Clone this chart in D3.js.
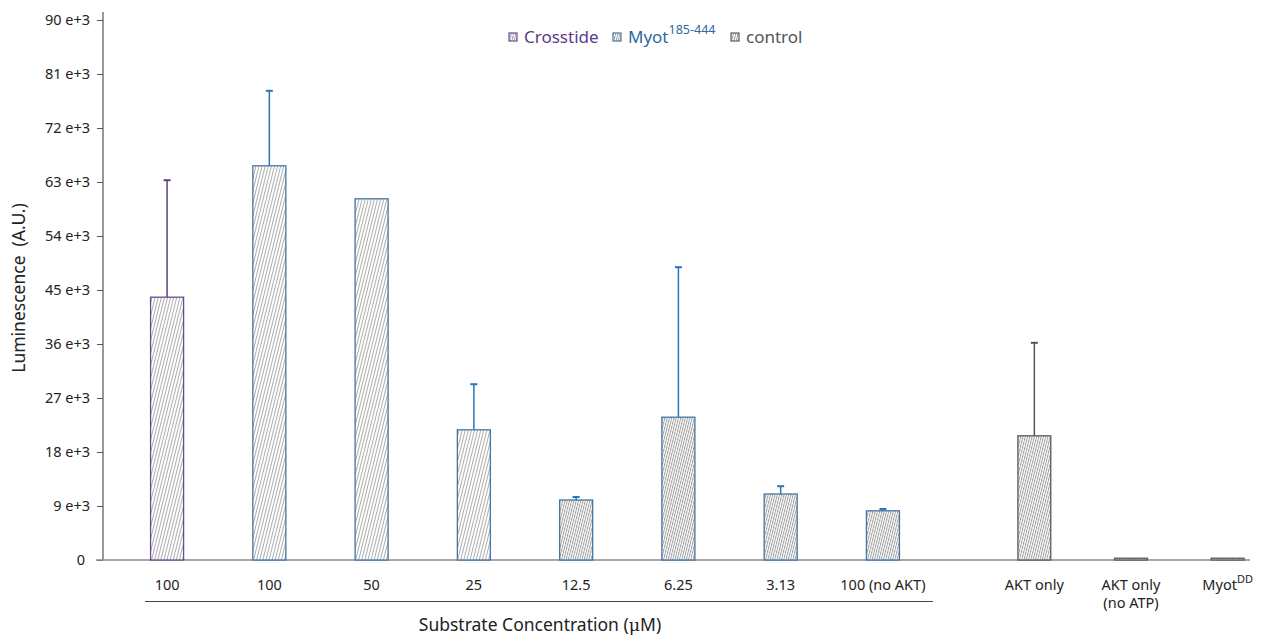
<!DOCTYPE html>
<html>
<head>
<meta charset="utf-8">
<script src="https://cdn.jsdelivr.net/npm/d3@7/dist/d3.min.js"></script>
<style>
  html, body { margin: 0; padding: 0; background: #fff; }
  svg { display: block; font-family: "Noto Sans", "Open Sans", sans-serif; }
</style>
</head>
<body>
<svg id="chart" width="1268" height="635"></svg>
<script>
// Substrate titration (first group) and controls (second group)
const substrateLabels = ["100", "100", "50", "25", "12.5", "6.25", "3.13", "100 (no AKT)"];
const substrateSeries = ["Crosstide", "Myot", "Myot", "Myot", "Myot", "Myot", "Myot", "Myot"];
const substrateMeans  = [43800, 65700, 60200, 21700, 10000, 23800, 11000, 8200];
const substrateErrors = [19500, 12500, 0, 7600, 500, 25000, 1300, 300];

const controlLabels = [["AKT only"], ["AKT only", "(no ATP)"], ["Myot", "DD"]];
const controlMeans  = [20700, 300, 300];
const controlErrors = [15500, 0, 0];

const yTicks = [0, 9000, 18000, 27000, 36000, 45000, 54000, 63000, 72000, 81000, 90000];

const colors = { Crosstide: "#6b4a94", Myot: "#4676a6", control: "#5a5a5a" };
const errColors = { Crosstide: "#5e4182", Myot: "#2a74b8", control: "#555555" };
const legendText = { Crosstide: "#5b3a8a", Myot: "#2c6aa3", control: "#555555" };

const svg = d3.select("#chart");

// Hatch patterns: fine steep diagonal lines
const defs = svg.append("defs");
function hatch(id, spacing, color, width) {
  const p = defs.append("pattern")
    .attr("id", id)
    .attr("patternUnits", "userSpaceOnUse")
    .attr("width", spacing).attr("height", spacing)
    .attr("patternTransform", "rotate(14)");
  p.append("rect").attr("width", spacing).attr("height", spacing).attr("fill", "#fff");
  p.append("line").attr("x1", 0.5).attr("y1", 0).attr("x2", 0.5).attr("y2", spacing)
    .attr("stroke", color).attr("stroke-width", width);
}
hatch("hatchLight", 3, "#a4a4a4", 0.9);
hatch("hatchDense", 2.2, "#969696", 0.9);

const y = d3.scaleLinear().domain([0, 90000]).range([560, 20]);

const xSub = d3.scaleBand().domain(d3.range(substrateLabels.length))
  .range([116, 934]).paddingInner(0.677).paddingOuter(0.338);
const xCtl = d3.scaleBand().domain(d3.range(controlLabels.length))
  .range([986, 1276]).paddingInner(0.66).paddingOuter(0.33);

// Y axis
const yAxis = d3.axisLeft(y).tickValues(yTicks).tickSize(6).tickPadding(7)
  .tickFormat(d => d === 0 ? "0" : (d / 1000) + " e+3");
const gy = svg.append("g").attr("transform", "translate(103,0)").call(yAxis);
gy.select(".domain").attr("d", "M0,12V560").attr("stroke", "#555").attr("stroke-width", 1.2);
gy.selectAll(".tick line").attr("stroke", "#555");
gy.selectAll(".tick text").attr("font-size", 14.5).attr("fill", "#222")
  .attr("font-family", "Noto Sans, sans-serif");
gy.selectAll(".tick").filter(d => d === 0).select("text").attr("dx", -5);

// X baseline
svg.append("line").attr("x1", 96).attr("x2", 1250).attr("y1", y(0)).attr("y2", y(0))
  .attr("stroke", "#8a8a8a").attr("stroke-width", 1.5);

// Substrate bars
const bw = xSub.bandwidth();
const subG = svg.append("g");
substrateMeans.forEach((v, i) => {
  const s = substrateSeries[i];
  const cx = xSub(i) + bw / 2;
  if (substrateErrors[i] > 0) {
    subG.append("line").attr("x1", cx).attr("x2", cx)
      .attr("y1", y(v)).attr("y2", y(v + substrateErrors[i]))
      .attr("stroke", errColors[s]).attr("stroke-width", 1.5);
    subG.append("line").attr("x1", cx - 3.5).attr("x2", cx + 3.5)
      .attr("y1", y(v + substrateErrors[i])).attr("y2", y(v + substrateErrors[i]))
      .attr("stroke", errColors[s]).attr("stroke-width", 2);
  }
  subG.append("rect")
    .attr("x", xSub(i)).attr("y", y(v)).attr("width", bw).attr("height", y(0) - y(v))
    .attr("fill", i >= 4 ? "url(#hatchDense)" : "url(#hatchLight)")
    .attr("stroke", colors[s]).attr("stroke-width", 1.3);
});

// Control bars
const cbw = xCtl.bandwidth();
controlMeans.forEach((v, i) => {
  const cx = xCtl(i) + cbw / 2;
  if (controlErrors[i] > 0) {
    subG.append("line").attr("x1", cx).attr("x2", cx)
      .attr("y1", y(v)).attr("y2", y(v + controlErrors[i]))
      .attr("stroke", errColors.control).attr("stroke-width", 1.5);
    subG.append("line").attr("x1", cx - 3.5).attr("x2", cx + 3.5)
      .attr("y1", y(v + controlErrors[i])).attr("y2", y(v + controlErrors[i]))
      .attr("stroke", errColors.control).attr("stroke-width", 2);
  }
  subG.append("rect")
    .attr("x", xCtl(i)).attr("y", y(v)).attr("width", cbw).attr("height", y(0) - y(v))
    .attr("fill", "url(#hatchDense)")
    .attr("stroke", colors.control).attr("stroke-width", 1.3);
});

// Category labels
const labG = svg.append("g").attr("font-size", 14.5).attr("fill", "#222").attr("text-anchor", "middle");
substrateLabels.forEach((t, i) => {
  labG.append("text").attr("x", xSub(i) + bw / 2).attr("y", 590).text(t);
});
controlLabels.forEach((lines, i) => {
  const cx = xCtl(i) + cbw / 2;
  if (lines[1] === "DD") {
    const t = labG.append("text").attr("x", cx).attr("y", 590);
    t.append("tspan").text(lines[0]);
    t.append("tspan").attr("font-size", 11).attr("dy", -7).text(lines[1]);
  } else {
    lines.forEach((l, j) => {
      labG.append("text").attr("x", cx).attr("y", 590 + j * 18).text(l);
    });
  }
});

// Group bracket and axis title
svg.append("line").attr("x1", 145).attr("x2", 933).attr("y1", 601.5).attr("y2", 601.5)
  .attr("stroke", "#444").attr("stroke-width", 1);
const xt = svg.append("text").attr("x", 540).attr("y", 631).attr("text-anchor", "middle")
  .attr("font-size", 17.5).attr("fill", "#222");
xt.append("tspan").text("Substrate Concentration (");
xt.append("tspan").attr("font-family", "DejaVu Serif, serif").text("\u03bc");
xt.append("tspan").text("M)");

svg.append("text").attr("transform", "translate(25,288) rotate(-90)")
  .attr("text-anchor", "middle").attr("font-size", 17.5).attr("fill", "#222")
  .attr("xml:space", "preserve").text("Luminescence  (A.U.)");

// Legend
const legendItems = [
  { key: "Crosstide", x: 509, label: "Crosstide", sup: null },
  { key: "Myot", x: 613, label: "Myot", sup: "185-444" },
  { key: "control", x: 731, label: "control", sup: null }
];
const lg = svg.append("g");
legendItems.forEach(it => {
  lg.append("rect").attr("x", it.x).attr("y", 33).attr("width", 8).attr("height", 8)
    .attr("fill", "url(#hatchDense)").attr("stroke", colors[it.key]).attr("stroke-width", 1.2);
  const t = lg.append("text").attr("x", it.x + 15).attr("y", 43)
    .attr("font-size", 17).attr("fill", legendText[it.key]);
  t.append("tspan").text(it.label);
  if (it.sup) t.append("tspan").attr("font-size", 12.5).attr("dy", -9).text(it.sup);
});
</script>
</body>
</html>
